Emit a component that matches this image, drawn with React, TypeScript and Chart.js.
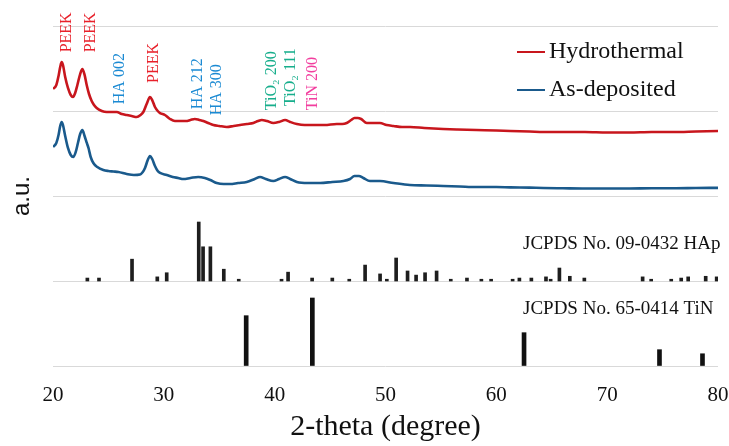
import { useEffect, useRef } from "react";
import { Chart, registerables } from "chart.js";

Chart.register(...registerables);

// ---- data ----
const xTicks = [20, 30, 40, 50, 60, 70, 80];

const hydroTheta = [20.0, 20.3, 20.5, 20.65, 20.78, 20.9, 21.1, 21.35, 21.6, 21.8, 22.0, 22.2, 22.45, 22.65, 22.85, 23.04, 23.25, 23.49, 23.7, 23.94, 24.4, 24.85, 25.3, 25.75, 26.2, 26.65, 27.1, 27.55, 27.9, 28.15, 28.45, 28.75, 28.95, 29.2, 29.45, 29.66, 30.1, 30.56, 31.0, 31.46, 32.0, 32.4, 32.8, 33.2, 33.57, 34.0, 34.47, 35.0, 35.68, 36.3, 36.88, 37.5, 38.08, 38.5, 38.84, 39.3, 39.88, 40.4, 40.94, 41.4, 42.0, 42.7, 43.5, 44.5, 45.6, 46.1, 46.5, 46.9, 47.2, 47.5, 47.8, 48.31, 48.9, 49.5, 50.1, 50.72, 51.5, 52.22, 53.5, 55.2, 56.5, 58.2, 60, 61.25, 63, 64.25, 66, 68, 70, 72, 74, 76, 78, 80];
const hydroIntensity = [325.9, 330.6, 341.2, 351.8, 357.6, 354.1, 340.0, 327.1, 318.8, 316.5, 321.2, 330.6, 343.5, 349.4, 342.4, 330.6, 320.0, 311.8, 307.1, 303.5, 300.0, 298.8, 298.8, 298.8, 296.5, 295.3, 294.1, 292.9, 295.3, 298.8, 308.2, 316.5, 312.9, 304.7, 300.0, 297.6, 295.3, 290.6, 288.2, 288.2, 288.2, 289.4, 290.6, 289.4, 288.2, 285.9, 283.5, 282.4, 281.2, 282.4, 283.5, 284.7, 285.9, 288.2, 289.4, 288.2, 285.9, 287.1, 289.4, 287.1, 284.7, 283.5, 283.5, 283.5, 284.7, 284.7, 285.9, 289.4, 291.8, 291.8, 290.6, 285.9, 285.9, 285.9, 283.5, 282.4, 281.2, 281.2, 280.0, 278.8, 278.2, 277.6, 277.1, 276.5, 275.9, 275.3, 275.3, 275.3, 274.7, 274.7, 275.3, 275.3, 275.9, 276.5];

const asDepTheta = [20.0, 20.3, 20.5, 20.65, 20.78, 20.9, 21.1, 21.35, 21.6, 21.83, 22.05, 22.25, 22.45, 22.65, 22.85, 23.05, 23.2, 23.4, 23.64, 24.0, 24.54, 25.0, 25.44, 25.9, 26.65, 27.3, 27.85, 28.1, 28.3, 28.55, 28.75, 28.95, 29.2, 29.45, 29.66, 30.26, 30.8, 31.3, 31.76, 32.4, 33.1, 33.7, 34.2, 34.77, 35.4, 35.97, 36.7, 37.48, 38.2, 38.68, 39.2, 39.88, 40.4, 40.94, 41.4, 42.0, 43.0, 44.1, 45.2, 46.2, 46.8, 47.2, 47.6, 48.0, 48.6, 49.5, 50.72, 52.2, 53.7, 55.2, 56.7, 58.2, 60, 61.25, 63, 64.25, 66, 68, 70, 72, 74, 76, 78, 80];
const asDepIntensity = [257.6, 262.4, 271.8, 282.4, 287.1, 283.5, 270.6, 256.5, 248.2, 245.9, 251.8, 262.4, 272.9, 277.6, 270.6, 262.4, 256.5, 245.9, 238.8, 234.1, 230.6, 229.4, 228.8, 228.2, 225.9, 224.7, 225.3, 228.2, 232.9, 242.4, 247.1, 243.5, 235.3, 229.4, 227.1, 224.7, 222.4, 221.2, 220.0, 221.2, 222.4, 221.2, 218.8, 215.3, 214.1, 214.1, 215.3, 216.5, 220.0, 222.4, 220.0, 217.6, 220.0, 222.4, 220.0, 216.5, 215.3, 215.3, 216.5, 217.6, 220.0, 223.5, 223.5, 221.2, 217.6, 217.6, 215.3, 212.9, 212.4, 211.8, 211.2, 210.6, 210.6, 210.2, 209.8, 209.4, 209.1, 208.8, 208.8, 208.8, 209.1, 209.1, 209.4, 209.6];

// JCPDS 09-0432 HAp reference lines (relative intensity, %)
const hapTheta = [23.1, 24.15, 27.13, 29.41, 30.26, 33.15, 33.54, 34.2, 35.41, 36.76, 40.62, 41.21, 43.38, 45.2, 46.73, 48.16, 49.51, 50.12, 50.96, 51.99, 52.76, 53.57, 54.61, 55.89, 57.35, 58.65, 59.53, 61.47, 62.08, 63.16, 64.48, 64.9, 65.69, 66.63, 67.94, 73.2, 73.97, 75.78, 76.68, 77.31, 78.89, 79.88];
const hapIntensity = [5, 5, 37, 7, 14, 100, 58, 58, 20, 3, 3, 15, 5, 5, 3, 27, 12, 3, 39, 17, 10, 14, 17, 3, 5, 3, 3, 3, 5, 5, 7, 3, 22, 8, 5, 7, 3, 3, 5, 7, 8, 7];

// JCPDS 65-0414 TiN reference lines (relative intensity, %)
const tinTheta = [37.43, 43.4, 62.5, 74.72, 78.6];
const tinIntensity = [74, 100, 49, 24, 18];

// peak annotations
const peakLabelText = ["PEEK", "PEEK", "HA 002", "PEEK", "HA 212", "HA 300", "TiO\u2082 200", "TiO\u2082 111", "TiN 200"];
const peakLabelTheta = [21.26, 23.43, 26.05, 29.12, 33.09, 34.76, 39.77, 41.48, 43.47];
const peakLabelPhase = ["PEEK", "PEEK", "HA", "PEEK", "HA", "HA", "TiO2", "TiO2", "TiN"];

const seriesNames = ["Hydrothermal", "As-deposited"];
const refNames = ["JCPDS No. 09-0432 HAp", "JCPDS No. 65-0414 TiN"];

// ---- styles / layout ----
const SERIF = '"Liberation Serif", "Times New Roman", serif';
const SANS = '"Liberation Sans", Arial, sans-serif';
const RED = "#c8161d";
const BLUE = "#1a5a8c";
const phaseColor: Record<string, string> = {
  PEEK: "#e8202a",
  HA: "#1b8ad3",
  TiO2: "#17ae8c",
  TiN: "#f23d9e",
};
// label bottom anchors (y-axis units)
const peakLabelAnchor = [369, 369, 308, 333, 302, 295, 301, 306, 301];
const HAP_BASE = 100;
const HAP_SCALE = 0.694;
const TIN_BASE = 0;
const TIN_SCALE = 0.8;

const overlayPlugin = {
  id: "overlay",
  afterDatasetsDraw(chart: any) {
    const { ctx, chartArea } = chart;
    const x = chart.scales.x;
    const y = chart.scales.y;
    ctx.save();

    // peak labels, rotated
    ctx.font = `16px ${SERIF}`;
    ctx.textAlign = "left";
    ctx.textBaseline = "middle";
    peakLabelText.forEach((t, i) => {
      const px = x.getPixelForValue(peakLabelTheta[i]);
      const py = y.getPixelForValue(peakLabelAnchor[i]);
      ctx.save();
      ctx.translate(px, py);
      ctx.rotate(-Math.PI / 2);
      ctx.fillStyle = phaseColor[peakLabelPhase[i]];
      ctx.fillText(t, 0, 0);
      ctx.restore();
    });

    // legend
    const lx0 = chartArea.right - 201;
    const lx1 = chartArea.right - 173;
    const tx = chartArea.right - 169;
    const rows = [chartArea.top + 26, chartArea.top + 64];
    const cols = [RED, BLUE];
    ctx.font = `24px ${SERIF}`;
    ctx.textBaseline = "middle";
    ctx.textAlign = "left";
    rows.forEach((ry, i) => {
      ctx.strokeStyle = cols[i];
      ctx.lineWidth = 2;
      ctx.beginPath();
      ctx.moveTo(lx0, ry);
      ctx.lineTo(lx1, ry);
      ctx.stroke();
      ctx.fillStyle = "#111";
      ctx.fillText(seriesNames[i], tx, ry);
    });

    // reference card names
    ctx.font = `19px ${SERIF}`;
    ctx.fillStyle = "#111";
    const refX = chartArea.right - 195;
    ctx.fillText(refNames[0], refX, y.getPixelForValue(143.5));
    ctx.fillText(refNames[1], refX, y.getPixelForValue(67));

    // y axis caption
    ctx.save();
    ctx.translate(22, (chartArea.top + chartArea.bottom) / 2)
    ctx.rotate(-Math.PI / 2);
    ctx.textAlign = "center";
    ctx.textBaseline = "middle";
    ctx.font = `24px ${SANS}`;
    ctx.fillStyle = "#111";
    ctx.fillText("a.u.", 0, 0);
    ctx.restore();

    ctx.restore();
  },
};

export default function App() {
  const canvasRef = useRef<HTMLCanvasElement | null>(null);

  useEffect(() => {
    const canvas = canvasRef.current;
    if (!canvas) return;
    const chart = new Chart(canvas, {
      type: "line",
      data: {
        datasets: [
          {
            type: "line",
            label: seriesNames[0],
            data: hydroTheta.map((t, i) => ({ x: t, y: hydroIntensity[i] })),
            borderColor: RED,
            borderWidth: 2.6,
            pointRadius: 0,
            cubicInterpolationMode: "monotone",
            fill: false,
          },
          {
            type: "line",
            label: seriesNames[1],
            data: asDepTheta.map((t, i) => ({ x: t, y: asDepIntensity[i] })),
            borderColor: BLUE,
            borderWidth: 2.6,
            pointRadius: 0,
            cubicInterpolationMode: "monotone",
            fill: false,
          },
          {
            type: "bar",
            label: refNames[0],
            data: hapTheta.map((t, i) => ({ x: t, y: [HAP_BASE, HAP_BASE + hapIntensity[i] * HAP_SCALE] })) as any,
            backgroundColor: "#1e1e1e",
            borderWidth: 0,
            barThickness: 3,
            grouped: false,
          } as any,
          {
            type: "bar",
            label: refNames[1],
            data: tinTheta.map((t, i) => ({ x: t, y: [TIN_BASE, TIN_BASE + tinIntensity[i] * TIN_SCALE] })) as any,
            backgroundColor: "#111",
            borderWidth: 0,
            barThickness: 4,
            grouped: false,
          } as any,
        ],
      },
      options: {
        responsive: false,
        animation: false,
        layout: { padding: { left: 53, right: 11, top: 26, bottom: 0 } },
        plugins: {
          legend: { display: false },
          tooltip: { enabled: false },
        },
        scales: {
          x: {
            type: "linear",
            min: 20,
            max: 80,
            offset: false,
            afterBuildTicks: (axis: any) => {
              axis.ticks = xTicks.map((v) => ({ value: v }));
            },
            afterFit: (axis: any) => {
              axis.paddingLeft = 0;
              axis.paddingRight = 0;
              axis.height = 80;
            },
            grid: { display: false, drawTicks: false },
            border: { display: false },
            ticks: {
              padding: 17,
              color: "#111",
              font: { family: SERIF, size: 21 },
            },
            title: {
              display: true,
              text: "2-theta (degree)",
              color: "#111",
              font: { family: SERIF, size: 30 },
              padding: { top: 0, bottom: 1 },
            },
          },
          y: {
            type: "linear",
            min: 0,
            max: 400,
            grid: { color: "#d9d9d9", lineWidth: 1, drawTicks: false },
            border: { display: false },
            ticks: { display: false, stepSize: 100 },
          },
        },
      },
      plugins: [overlayPlugin],
    });
    return () => chart.destroy();
  }, []);

  return (
    <div style={{ position: "fixed", left: 0, top: 0, width: 729, height: 446, background: "#fff" }}>
      <canvas ref={canvasRef} width={729} height={446} />
    </div>
  );
}
